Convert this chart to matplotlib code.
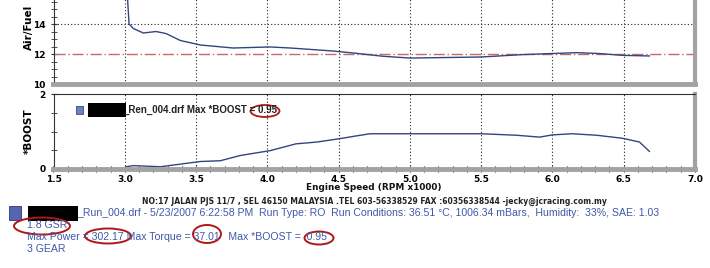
import matplotlib.pyplot as plt
from matplotlib.patches import Ellipse, Rectangle
import numpy as np

# Air/Fuel and boost vs engine speed (RPM x1000)
af_rpm = [3.00, 3.01, 3.02, 3.03, 3.06, 3.13, 3.22, 3.29, 3.39, 3.53, 3.76, 4.02, 4.16,
          4.46, 4.62, 4.81, 5.00, 5.50, 5.79, 6.17, 6.33, 6.49, 6.68]
af_val = [18.5, 17.2, 15.6, 14.0, 13.7, 13.4, 13.5, 13.36, 12.9, 12.6, 12.4, 12.47, 12.4,
          12.2, 12.05, 11.85, 11.73, 11.8, 11.96, 12.09, 12.03, 11.91, 11.87]
boost_rpm = [3.01, 3.06, 3.25, 3.53, 3.67, 3.81, 4.02, 4.20, 4.35, 4.51, 4.62, 4.72, 5.00,
             5.50, 5.75, 5.91, 6.00, 6.14, 6.31, 6.49, 6.61, 6.68]
boost_val = [0.06, 0.09, 0.06, 0.20, 0.22, 0.36, 0.49, 0.67, 0.72, 0.81, 0.88, 0.94, 0.94,
             0.94, 0.90, 0.85, 0.91, 0.94, 0.90, 0.82, 0.72, 0.47]
target_af = 12

x_ticks = [2.5, 3.0, 3.5, 4.0, 4.5, 5.0, 5.5, 6.0, 6.5, 7.0]
x_labels = ['1.5', '3.0', '3.5', '4.0', '4.5', '5.0', '5.5', '6.0', '6.5', '7.0']

W, H = 710, 268
fig = plt.figure(figsize=(W / 100, H / 100), dpi=100)
fig.patch.set_facecolor('white')

def fx(px):
    return px / W

def fy(py):
    return 1 - py / H

line_col = '#34447e'
blue_txt = '#3f58a8'
grey = '#a2a2a2'

def frame(ax):
    ax.patch.set_alpha(0)
    ax.spines['left'].set_color('#333333')
    ax.spines['left'].set_linewidth(0.8)
    ax.spines['top'].set_color('#333333')
    ax.spines['top'].set_linewidth(0.8)
    ax.spines['bottom'].set_color(grey)
    ax.spines['bottom'].set_linewidth(3.5)
    ax.spines['right'].set_color(grey)
    ax.spines['right'].set_linewidth(3)
    ax.set_xlim(2.5, 7.0)
    ax.set_xticks(x_ticks)
    ax.set_xticks(np.arange(2.5, 7.01, 0.1), minor=True)
    ax.grid(axis='x', which='major', linestyle=(0, (1, 2)), color='#222222', linewidth=0.8)
    ax.tick_params(axis='y', which='both', direction='inout', color='#333333',
                   labelsize=6.5, pad=3)
    ax.tick_params(axis='y', which='major', length=5)
    ax.tick_params(axis='y', which='minor', length=4)

# top panel: air / fuel
ax1 = fig.add_axes([fx(53.5), fy(84), fx(641.5), 120 / H])
frame(ax1)
ax1.set_ylim(10, 18)
ax1.set_yticks([10, 12, 14])
ax1.set_yticks(np.arange(10, 18.01, 0.5), minor=True)
ax1.grid(axis='y', which='major', linestyle=(0, (1, 2)), color='#222222', linewidth=0.8)
ax1.get_ygridlines()[1].set_visible(False)
ax1.get_ygridlines()[0].set_visible(False)
ax1.tick_params(axis='x', which='both', length=0, labelbottom=False)
for t in ax1.get_yticklabels():
    t.set_fontweight('bold')
ax1.axhline(target_af, color='#c46a6a', linewidth=1, linestyle=(0, (8, 2, 1, 2)))
ax1.plot(af_rpm, af_val, color=line_col, linewidth=1)
ax1.set_ylabel('Air/Fuel', fontsize=7.5, fontweight='bold')
ax1.yaxis.set_label_coords(-0.03, 0.47)

# bottom panel: boost
ax2 = fig.add_axes([fx(53.5), fy(169), fx(641.5), 75 / H])
frame(ax2)
ax2.set_ylim(0, 2)
ax2.set_yticks([0, 2])
ax2.set_yticks(np.arange(0, 2.01, 0.5), minor=True)
ax2.set_xticklabels(x_labels)
ax2.tick_params(axis='x', which='both', direction='inout', color='#222222', length=4,
                width=0.8, labelsize=6.5, pad=2)
for t in ax2.get_xticklabels() + ax2.get_yticklabels():
    t.set_fontweight('bold')
ax2.plot(boost_rpm, boost_val, color=line_col, linewidth=1)
ax2.set_ylabel('*BOOST', fontsize=7.5, fontweight='bold')
ax2.yaxis.set_label_coords(-0.03, 0.5)
fig.text(fx(374), fy(187), 'Engine Speed (RPM x1000)', fontsize=6.4, fontweight='bold',
         color='#111111', ha='center', va='center')

# legend inside the boost panel
fig.add_artist(Rectangle((fx(76), fy(114)), 7 / W, 8 / H, transform=fig.transFigure,
                         facecolor='#6f7fc0', edgecolor='#3a4a90', linewidth=0.6))
fig.add_artist(Rectangle((fx(88), fy(117)), 38 / W, 14 / H, transform=fig.transFigure,
                         facecolor='black'))
fig.text(fx(123), fy(110), '_Ren_004.drf Max *BOOST = 0.95', fontsize=7, fontweight='bold',
         color='#222222', va='center', ha='left', family='Liberation Sans')
fig.add_artist(Ellipse((fx(265), fy(111)), 29 / W, 12 / H, transform=fig.transFigure,
                       fill=False, edgecolor='#b01818', linewidth=1.3))

# footer
fig.text(fx(374), fy(201), 'NO:17 JALAN PJS 11/7 , SEL 46150 MALAYSIA .TEL 603-56338529 '
         'FAX :60356338544 -jecky@jcracing.com.my', fontsize=5.5, fontweight='bold',
         color='#222222', ha='center', va='center')
fig.add_artist(Rectangle((fx(9), fy(220)), 12 / W, 14 / H, transform=fig.transFigure,
                         facecolor='#5565b0', edgecolor='#2a3580', linewidth=0.6))
fig.add_artist(Rectangle((fx(28), fy(221)), 50 / W, 15 / H, transform=fig.transFigure,
                         facecolor='black'))
info = ['_Run_004.drf - 5/23/2007 6:22:58 PM  Run Type: RO  Run Conditions: 36.51 \u00b0C, '
        '1006.34 mBars,  Humidity:  33%, SAE: 1.03',
        '1.8 GSR',
        'Max Power = 302.17 Max Torque = 37.01   Max *BOOST =  0.95',
        '3 GEAR']
fig.text(fx(77), fy(213), info[0], fontsize=7.6, color=blue_txt, va='center', ha='left',
         family='Liberation Sans')
for i, s in enumerate(info[1:]):
    fig.text(fx(27), fy(224.5 + 12.5 * i), s, fontsize=7.6, color=blue_txt, va='center',
             ha='left', family='Liberation Sans')

for cx, cy, w, h in [(42, 226, 56, 17), (108, 236, 46, 15), (207, 234, 28, 18),
                     (319, 238, 29, 13)]:
    fig.add_artist(Ellipse((fx(cx), fy(cy)), w / W, h / H, transform=fig.transFigure,
                           fill=False, edgecolor='#b01818', linewidth=1.4))

fig.savefig('out.png', dpi=100)
